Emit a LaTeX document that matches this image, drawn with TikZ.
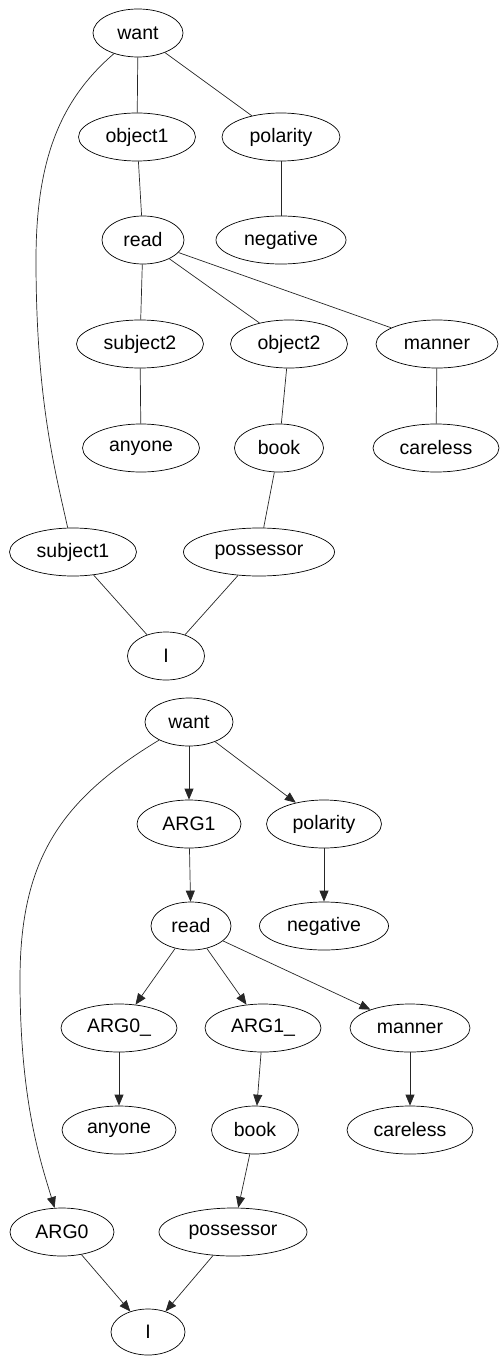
\documentclass[tikz,border=0pt]{standalone}
\usepackage{fontspec}
\setmainfont{Liberation Sans}
\usetikzlibrary{shapes.geometric,arrows.meta}
\tikzset{
  nd/.style={ellipse, draw=black, line width=0.7pt, inner sep=0pt, minimum height=48pt, font=\fontsize{19.5pt}{22pt}\selectfont},
  ln/.style={draw=black!85, line width=0.7pt},
  ar/.style={ln, -{Triangle[length=11pt,width=9pt]}}
}
\begin{document}
\begin{tikzpicture}[x=1pt,y=-1pt]
\useasboundingbox (0,0) rectangle (500,1356);
% top graph
\node[nd, minimum width=90pt] (want) at (138,33) {want};
\node[nd, minimum width=117pt] (object1) at (137,137) {object1};
\node[nd, minimum width=118pt] (polarity) at (281,137) {polarity};
\node[nd, minimum width=82pt] (read) at (143,240) {read};
\node[nd, minimum width=130pt] (negative) at (281,240) {negative};
\node[nd, minimum width=127pt] (subject2) at (140,344) {subject2};
\node[nd, minimum width=117pt] (object2) at (289,344) {object2};
\node[nd, minimum width=122pt] (manner) at (437,344) {manner};
\node[nd, minimum width=117pt] (anyone) at (141,448) {anyone};
\node[nd, minimum width=89pt] (book) at (279,448) {book};
\node[nd, minimum width=126pt] (careless) at (436,448) {careless};
\node[nd, minimum width=127pt] (subject1) at (73,552) {subject1};
\node[nd, minimum width=151pt] (possessor) at (259,552) {possessor};
\node[nd, minimum width=77pt] (I) at (166,656) {I};
\draw[ln] (want) -- (object1);
\draw[ln] (want) -- (polarity);
\draw[ln] (want) .. controls (60,100) and (36,160) .. (36,260) .. controls (36,400) and (55,470) .. (subject1);
\draw[ln] (object1) -- (read);
\draw[ln] (polarity) -- (negative);
\draw[ln] (read) -- (subject2);
\draw[ln] (read) -- (object2);
\draw[ln] (read) -- (manner);
\draw[ln] (subject2) -- (anyone);
\draw[ln] (object2) -- (book);
\draw[ln] (manner) -- (careless);
\draw[ln] (book) -- (possessor);
\draw[ln] (subject1) -- (I);
\draw[ln] (possessor) -- (I);
% bottom graph
\node[nd, minimum width=88pt] (wantb) at (189,722) {want};
\node[nd, minimum width=104pt] (argone) at (189,824) {ARG1};
\node[nd, minimum width=115pt] (polarityb) at (324,824) {polarity};
\node[nd, minimum width=80pt] (readb) at (191,926) {read};
\node[nd, minimum width=129pt] (negativeb) at (324,926) {negative};
\node[nd, minimum width=116pt] (argzerou) at (119,1028) {ARG0\_};
\node[nd, minimum width=116pt] (argoneu) at (263,1028) {ARG1\_};
\node[nd, minimum width=120pt] (mannerb) at (410,1028) {manner};
\node[nd, minimum width=114pt] (anyoneb) at (119,1130) {anyone};
\node[nd, minimum width=87pt] (bookb) at (255,1130) {book};
\node[nd, minimum width=126pt] (carelessb) at (410,1130) {careless};
\node[nd, minimum width=104pt] (argzero) at (62,1232) {ARG0};
\node[nd, minimum width=148pt] (possessorb) at (233,1232) {possessor};
\node[nd, minimum width=74pt, minimum height=46pt] (Ib) at (148,1332) {I};
\draw[ar] (wantb) -- (argone);
\draw[ar] (wantb) -- (polarityb);
\draw[ar] (wantb) .. controls (60,800) and (20,860) .. (20,980) .. controls (20,1100) and (40,1160) .. (argzero);
\draw[ar] (argone) -- (readb);
\draw[ar] (polarityb) -- (negativeb);
\draw[ar] (readb) -- (argzerou);
\draw[ar] (readb) -- (argoneu);
\draw[ar] (readb) -- (mannerb);
\draw[ar] (argzerou) -- (anyoneb);
\draw[ar] (argoneu) -- (bookb);
\draw[ar] (mannerb) -- (carelessb);
\draw[ar] (bookb) -- (possessorb);
\draw[ar] (argzero) -- (Ib);
\draw[ar] (possessorb) -- (Ib);
\end{tikzpicture}
\end{document}
